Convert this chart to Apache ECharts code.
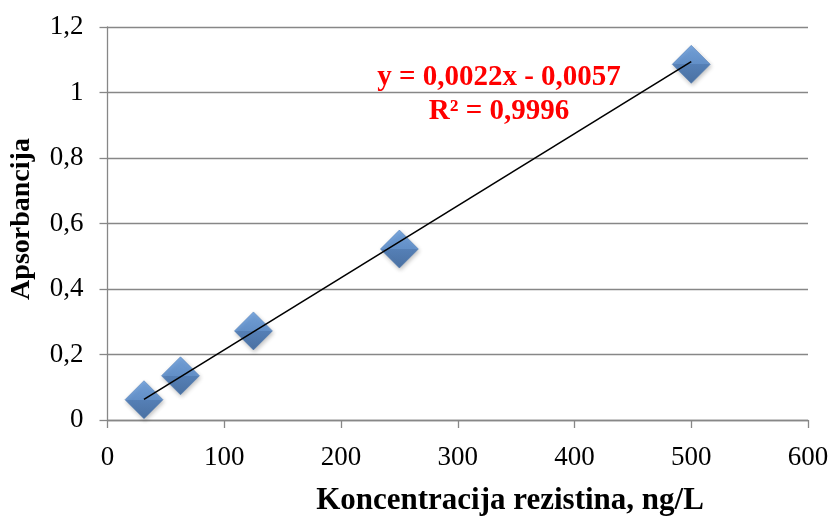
<!DOCTYPE html>
<html>
<head>
<meta charset="utf-8">
<script src="https://cdn.jsdelivr.net/npm/echarts@6/dist/echarts.min.js"></script>
<style>
  html, body { margin: 0; padding: 0; background: #fff; }
  #chart { width: 836px; height: 521px; }
</style>
</head>
<body>
<div id="chart"></div>
<script>
// Calibration standards: resistin concentration (ng/L) vs. absorbance
const concentrations = [31.25, 62.5, 125, 250, 500];
const absorbances = [0.062, 0.135, 0.272, 0.522, 1.086];

// Linear trendline as reported in the equation label
const slope = 0.0022;
const intercept = -0.0057;
const equationText = 'y = 0,0022x - 0,0057';
const r2Text = 'R² = 0,9996';

const xTitle = 'Koncentracija rezistina, ng/L';
const yTitle = 'Apsorbancija';

const points = concentrations.map((c, i) => [c, absorbances[i]]);
const xMin = Math.min(...concentrations);
const xMax = Math.max(...concentrations);
const trend = [
  [xMin, slope * xMin + intercept],
  [xMax, slope * xMax + intercept]
];

const FONT = '"Liberation Serif", "Times New Roman", serif';
const GRAY = '#878787';

const chart = echarts.init(document.getElementById('chart'), null, { renderer: 'canvas' });

// Bevelled look for the diamond markers: lighter upper half, darker lower half
const diamondFill = new echarts.graphic.LinearGradient(0, 0, 0, 1, [
  { offset: 0, color: '#5e97dc' },
  { offset: 0.5, color: '#4a82c8' },
  { offset: 0.5, color: '#3a6fb3' },
  { offset: 1, color: '#2c5c9a' }
]);

chart.setOption({
  animation: false,
  backgroundColor: '#ffffff',
  grid: { left: 107.5, right: 28, top: 27, bottom: 101, containLabel: false },
  xAxis: {
    type: 'value',
    min: 0, max: 600, interval: 100,
    axisLine: { show: true, lineStyle: { color: GRAY, width: 1.3 } },
    axisTick: { show: true, length: 8, lineStyle: { color: GRAY, width: 1.3 } },
    splitLine: { show: false },
    axisLabel: {
      color: '#000', fontFamily: FONT, fontSize: 27, margin: 24,
      formatter: v => String(v)
    }
  },
  yAxis: {
    type: 'value',
    min: 0, max: 1.2, interval: 0.2,
    axisLine: { show: true, lineStyle: { color: GRAY, width: 1.3 } },
    axisTick: { show: true, length: 8, lineStyle: { color: GRAY, width: 1.3 } },
    splitLine: { show: true, lineStyle: { color: GRAY, width: 1.3 } },
    axisLabel: {
      color: '#000', fontFamily: FONT, fontSize: 27, margin: 24,
      formatter: v => {
        const r = Math.round(v * 10) / 10;
        return String(r).replace('.', ',');
      }
    }
  },
  series: [
    {
      type: 'scatter',
      data: points,
      symbol: 'diamond',
      symbolSize: 38,
      z: 2,
      itemStyle: {
        color: diamondFill,
        borderColor: '#3d6fae',
        borderWidth: 0.6,
        shadowColor: 'rgba(0,0,0,0.3)',
        shadowBlur: 4,
        shadowOffsetX: 1,
        shadowOffsetY: 2
      }
    },
    {
      type: 'line',
      data: trend,
      symbol: 'none',
      z: 3,
      lineStyle: { color: '#000', width: 1.6 }
    }
  ],
  graphic: [
    {
      type: 'text',
      z: 10,
      style: {
        text: equationText + '\n' + r2Text,
        x: 499, y: 95,
        align: 'center', verticalAlign: 'middle',
        font: 'bold 29px ' + FONT, fill: '#ff0000', lineHeight: 34
      }
    },
    {
      type: 'text',
      style: {
        text: xTitle, x: 510, y: 501,
        align: 'center', verticalAlign: 'middle',
        font: 'bold 31px ' + FONT, fill: '#000'
      }
    },
    {
      type: 'text',
      x: 22, y: 219, rotation: Math.PI / 2,
      style: {
        text: yTitle, x: 0, y: 0,
        align: 'center', verticalAlign: 'middle',
        font: 'bold 28px ' + FONT, fill: '#000'
      }
    }
  ]
});
</script>
</body>
</html>
